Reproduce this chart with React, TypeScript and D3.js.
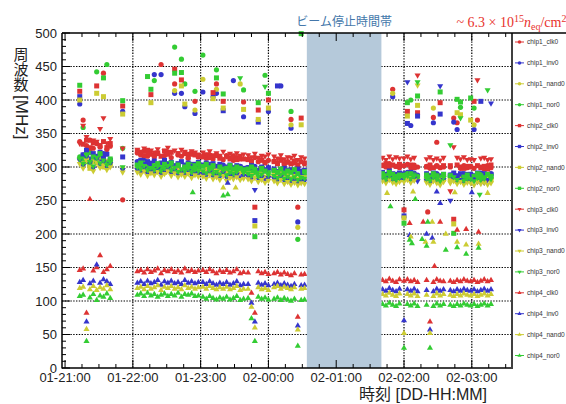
import React from "react";
import * as d3 from "d3";

const _ = null;

// minutes since 01-21:00
const times = [
  13, 16, 19, 22, 25, 28, 31, 34, 37, 40, 51,
  64, 67, 70, 73, 76, 79, 82, 85, 88, 91, 94, 97, 100, 103, 106, 109, 112, 115, 118,
  122, 125, 128, 131, 134, 137, 140, 143, 146, 149, 152, 155, 158,
  162, 165, 168, 171, 174, 177, 180,
  185, 188, 191, 194, 197, 200, 203, 206, 209, 212,
  281, 284, 287, 290, 293, 296,
  300, 303, 306, 309, 312,
  320, 323, 326, 329, 332, 335,
  341, 344, 347, 350, 353, 356,
  359, 362, 365, 368, 371, 374, 377,
];

const chip1_clk0 = [
  338, 370, 332, 340, 328, 335, 330, 440, 326, 331, 251,
  321, 318, 324, 316, 319, 315, 320, 453, 317, 322, 314, 424, 318, 316, 320, 313, 319, 398, 315,
  316, 313, 318, 312, 424, 315, 311, 317, 313, 310, 314, 312, 397,
  312, 309, 314, 308, 311, 307, 310,
  309, 306, 311, 305, 308, 371, 306, 240, 308, 305,
  303, 300, 305, 416, 301, 299,
  302, 304, 299, 303, 300,
  301, 298, 374, 302, 299, 300,
  300, 373, 366, 298, 302, 299,
  301, 298, 370, 300, 297, 302, 299,
];
const chip1_inv0 = [
  394, 318, 310, 322, 308, 315, 312, 320, 306, 311, 383,
  308, 305, 310, 303, 306, 438, 304, 438, 307, 302, 305, 410, 303, 410, 390, 301, 304, 380, 302,
  412, 301, 304, 405, 410, 300, 303, 299, 302, 429, 298, 301, 375,
  299, 296, 301, 295, 298, 294, 383,
  296, 293, 421, 292, 295, 358, 293, 218, 294, 292,
  291, 288, 293, 405, 289, 287,
  290, 292, 362, 291, 288,
  289, 286, 366, 290, 287, 288,
  288, 367, 356, 286, 290, 287,
  289, 356, 287, 291, 285, 288, 290,
];
const chip1_nand0 = [
  312, 305, 318, 302, 310, 306, 315, 300, 308, 304, 298,
  299, 296, 301, 294, 297, 300, 293, 298, 295, 299, 292, 414, 296, 294, 298, 291, 295, 385, 293,
  431, 292, 296, 290, 416, 294, 291, 289, 293, 290, 288, 424, 291,
  289, 286, 291, 285, 288, 284, 287,
  287, 284, 289, 283, 286, 363, 284, 210, 285, 283,
  284, 281, 286, 410, 282, 280,
  283, 285, 281, 284, 282,
  282, 279, 388, 283, 280, 281,
  281, 284, 280, 282, 279, 283,
  282, 363, 280, 284, 278, 281, 283,
];
const chip1_nor0 = [
  315, 359, 308, 322, 312, 442, 318, 310, 453, 306, 328,
  304, 301, 306, 299, 302, 429, 300, 303, 298, 305, 300, 479, 302, 461, 424, 299, 303, 413, 300,
  467, 298, 302, 296, 445, 300, 297, 295, 299, 296, 294, 297, 415,
  295, 292, 297, 291, 294, 437, 293,
  293, 290, 295, 289, 292, 383, 290, 192, 291, 289,
  289, 286, 291, 288, 287, 285,
  288, 290, 400, 289, 286,
  287, 284, 289, 288, 285, 286,
  286, 289, 285, 389, 284, 288,
  287, 388, 285, 289, 283, 286, 288,
];
const chip2_clk0 = [
  413, 334, 340, 328, 336, 421, 332, 338, 329, 335, 391,
  323, 320, 317, 325, 408, 318, 321, 316, 324, 319, 322, 446, 320, 430, 321, 315, 320, 318, 316,
  315, 318, 314, 411, 317, 313, 398, 316, 312, 315, 311, 314, 312,
  311, 308, 240, 385, 310, 306, 400,
  308, 305, 310, 304, 307, 305, 309, 303, 373, 306,
  302, 305, 300, 303, 301, 304,
  236, 383, 303, 299, 381,
  300, 303, 299, 301, 396, 302,
  302, 222, 303, 300, 298, 301,
  300, 398, 302, 299, 301, 297, 303,
];
const chip2_inv0 = [
  405, 318, 325, 312, 320, 316, 322, 314, 319, 310, 315,
  307, 310, 304, 308, 305, 309, 303, 306, 310, 304, 307, 302, 305, 308, 303, 306, 301, 304, 307,
  303, 306, 302, 305, 301, 304, 384, 300, 303, 299, 302, 300, 298,
  299, 302, 220, 367, 300, 296, 299,
  297, 421, 295, 298, 294, 296, 293, 297, 292, 295,
  292, 289, 294, 290, 288, 291,
  227, 365, 292, 288, 376,
  290, 287, 291, 288, 379, 289,
  288, 291, 287, 290, 286, 289,
  289, 287, 291, 398, 290, 286, 289,
];
const chip2_nand0 = [
  400, 305, 312, 298, 308, 410, 303, 405, 300, 307, 379,
  298, 295, 300, 293, 396, 297, 294, 299, 292, 296, 293, 298, 295, 421, 394, 292, 296, 294, 291,
  293, 296, 291, 402, 294, 290, 388, 292, 289, 293, 290, 292, 386,
  290, 287, 212, 371, 289, 285, 388,
  288, 285, 290, 284, 287, 283, 286, 282, 363, 284,
  285, 282, 287, 283, 281, 284,
  224, 376, 285, 282, 392,
  283, 280, 284, 282, 279, 283,
  282, 215, 381, 378, 280, 283,
  370, 281, 285, 282, 279, 284, 281,
];
const chip2_nor0 = [
  422, 312, 318, 305, 315, 309, 320, 433, 306, 312, 399,
  303, 306, 300, 435, 416, 302, 305, 299, 304, 301, 306, 440, 303, 441, 300, 304, 298, 302, 305,
  301, 304, 299, 302, 433, 300, 409, 298, 302, 297, 300, 298, 296,
  297, 300, 196, 396, 298, 294, 410,
  295, 292, 297, 291, 294, 292, 296, 290, 499, 293,
  290, 287, 292, 289, 286, 288,
  216, 396, 290, 287, 406,
  288, 285, 290, 287, 412, 289,
  287, 201, 401, 397, 285, 288,
  403, 286, 290, 287, 284, 289, 286,
];
const chip3_clk0 = [
  335, 362, 345, 330, 340, 338, 357, 373, 336, 342, 328,
  326, 323, 328, 321, 325, 322, 327, 293, 324, 329, 322, 325, 321, 326, 323, 320, 324, 322, 319,
  322, 319, 324, 318, 321, 317, 323, 316, 320, 318, 321, 317, 319,
  318, 315, 320, 314, 317, 316, 319,
  316, 313, 318, 312, 315, 314, 317, 311, 315, 313,
  314, 311, 316, 312, 315, 313,
  313, 316, 312, 314, 437,
  312, 315, 311, 313, 310, 314,
  264, 330, 314, 312, 315, 311,
  312, 311, 430, 313, 314, 311, 312,
];
const chip3_inv0 = [
  310, 302, 315, 306, 298, 312, 304, 308, 300, 305, 296,
  296, 293, 298, 291, 295, 292, 297, 290, 294, 298, 291, 295, 289, 293, 290, 294, 288, 292, 290,
  290, 287, 292, 286, 289, 285, 291, 284, 288, 286, 289, 285, 287,
  286, 283, 266, 282, 285, 281, 284,
  283, 280, 285, 279, 282, 278, 281, 277, 280, 279,
  282, 279, 284, 280, 278, 281,
  281, 427, 280, 283, 279,
  280, 277, 282, 279, 421, 281,
  250, 282, 278, 281, 277, 280,
  279, 282, 278, 280, 277, 281, 395,
];
const chip3_nand0 = [
  305, 298, 310, 301, 294, 307, 299, 303, 296, 300, 292,
  292, 289, 294, 287, 291, 288, 293, 286, 290, 294, 287, 291, 285, 289, 286, 290, 284, 288, 286,
  286, 283, 288, 282, 285, 281, 287, 280, 284, 282, 285, 281, 283,
  282, 279, 284, 278, 281, 277, 280,
  279, 276, 281, 275, 278, 274, 277, 273, 276, 275,
  279, 276, 281, 277, 275, 278,
  278, 281, 277, 280, 422,
  277, 274, 279, 276, 273, 278,
  276, 279, 275, 278, 274, 277,
  276, 273, 278, 275, 277, 274, 276,
];
const chip3_nor0 = [
  312, 305, 318, 308, 301, 314, 306, 310, 303, 307, 300,
  300, 297, 302, 295, 299, 296, 301, 294, 298, 302, 295, 299, 293, 297, 294, 298, 292, 296, 294,
  294, 291, 296, 290, 293, 289, 295, 288, 292, 290, 293, 433, 291,
  290, 287, 292, 286, 289, 420, 288,
  287, 284, 289, 283, 286, 282, 285, 281, 284, 283,
  285, 282, 287, 283, 281, 284,
  284, 287, 283, 286, 427,
  283, 280, 285, 282, 279, 284,
  333, 285, 281, 373, 280, 283,
  282, 279, 284, 281, 283, 415, 282,
];
const chip4_clk0 = [
  146, 148, 82, 252, 145, 150, 168, 143, 147, 152, _,
  144, 146, 142, 147, 143, 145, 148, 141, 146, 144, 147, 143, 145, 142, 148, 144, 146, 143, 145,
  146, 143, 147, 144, 141, 145, 143, 146, 142, 144, 147, 141, 143,
  142, 112, 82, 144, 141, 143, 140,
  141, 143, 139, 142, 140, 138, 141, 76, 139, 140,
  131, 129, 133, 130, 128, 132,
  130, 132, 129, 131, 128,
  131, 69, 128, 132, 130, 129,
  130, 128, 131, 129, 132, 130,
  129, 131, 128, 130, 132, 129, 131,
];
const chip4_inv0 = [
  128, 131, 69, 126, 130, 154, 127, 132, 129, 125, _,
  127, 129, 125, 130, 126, 128, 131, 124, 129, 127, 130, 126, 128, 125, 131, 127, 129, 126, 128,
  128, 125, 129, 126, 124, 127, 125, 128, 124, 126, 129, 123, 125,
  125, 97, 69, 127, 124, 126, 123,
  125, 127, 123, 126, 124, 122, 125, 63, 123, 124,
  117, 115, 119, 116, 114, 118,
  71, 117, 115, 118, 114,
  116, 57, 114, 118, 115, 117,
  116, 114, 117, 115, 118, 116,
  115, 117, 114, 116, 118, 115, 117,
];
const chip4_nand0 = [
  119, 121, 58, 117, 122, 116, 120, 118, 123, 117, _,
  119, 121, 117, 122, 118, 120, 123, 116, 121, 119, 122, 118, 120, 117, 123, 119, 121, 118, 120,
  121, 118, 122, 119, 117, 120, 118, 121, 117, 119, 122, 116, 118,
  118, 91, 60, 120, 117, 119, 116,
  120, 122, 118, 121, 119, 117, 120, 57, 118, 119,
  110, 108, 112, 109, 107, 111,
  52, 110, 108, 111, 107,
  109, 52, 107, 111, 108, 110,
  109, 107, 110, 108, 111, 109,
  108, 110, 107, 109, 111, 108, 110,
];
const chip4_nor0 = [
  107, 109, 40, 105, 110, 101, 108, 106, 111, 104, _,
  109, 111, 107, 112, 108, 110, 106, 109, 111, 107, 110, 108, 112, 106, 110, 109, 111, 107, 108,
  106, 103, 107, 104, 102, 105, 103, 106, 102, 104, 107, 101, 103,
  104, 74, 40, 106, 103, 105, 102,
  103, 105, 101, 104, 102, 100, 103, 33, 101, 102,
  95, 93, 97, 94, 92, 96,
  30, 95, 93, 96, 92,
  94, 30, 92, 96, 93, 95,
  94, 92, 95, 93, 96, 94,
  93, 95, 92, 94, 96, 93, 95,
];

// isolated readings: [series, minute, MHz]
const extraPoints: [string, number, number][] = [
  ["chip4_inv0", 144, 276], ["chip4_nand0", 140, 269], ["chip4_nand0", 151, 269],
  ["chip4_nor0", 140, 257], ["chip4_nor0", 144, 259], ["chip4_nor0", 113, 262],
  ["chip4_nand0", 285, 261], ["chip4_nor0", 288, 241], ["chip4_nand0", 308, 263],
  ["chip4_nor0", 310, 252], ["chip4_inv0", 329, 263], ["chip4_inv0", 332, 246],
  ["chip4_nand0", 345, 262], ["chip4_inv0", 360, 262], ["chip4_nand0", 374, 261],
  ["chip3_nor0", 367, 259], ["chip1_clk0", 321, 233], ["chip4_clk0", 332, 218],
  ["chip4_clk0", 317, 218], ["chip4_nor0", 321, 218], ["chip4_nand0", 325, 218],
  ["chip4_clk0", 305, 216], ["chip4_nor0", 305, 191], ["chip4_inv0", 305, 198],
  ["chip4_nand0", 306, 196], ["chip4_nor0", 307, 186], ["chip4_nor0", 316, 192],
  ["chip4_inv0", 320, 200], ["chip4_nand0", 319, 188], ["chip4_nor0", 320, 182],
  ["chip4_inv0", 325, 194], ["chip4_nand0", 326, 188], ["chip4_nand0", 337, 200],
  ["chip4_nor0", 337, 176], ["chip4_clk0", 347, 206], ["chip4_nand0", 347, 188],
  ["chip4_nor0", 347, 180], ["chip4_clk0", 355, 207], ["chip4_nand0", 355, 184],
  ["chip4_nor0", 355, 170], ["chip4_clk0", 366, 203], ["chip4_nand0", 366, 185],
  ["chip4_nor0", 366, 179], ["chip4_clk0", 327, 152], ["chip1_clk0", 329, 337],
];

const seriesNames = [
  "chip1_clk0", "chip1_inv0", "chip1_nand0", "chip1_nor0",
  "chip2_clk0", "chip2_inv0", "chip2_nand0", "chip2_nor0",
  "chip3_clk0", "chip3_inv0", "chip3_nand0", "chip3_nor0",
  "chip4_clk0", "chip4_inv0", "chip4_nand0", "chip4_nor0",
];
const seriesValues = [
  chip1_clk0, chip1_inv0, chip1_nand0, chip1_nor0,
  chip2_clk0, chip2_inv0, chip2_nand0, chip2_nor0,
  chip3_clk0, chip3_inv0, chip3_nand0, chip3_nor0,
  chip4_clk0, chip4_inv0, chip4_nand0, chip4_nor0,
];

const xTickMinutes = [0, 60, 120, 180, 240, 300, 360];
const xTickLabels = ["01-21:00", "01-22:00", "01-23:00", "02-00:00", "02-01:00", "02-02:00", "02-03:00"];
const yTicks = [0, 50, 100, 150, 200, 250, 300, 350, 400, 450, 500];
const beamStop = [214, 280];

const colorOf: Record<string, string> = {
  clk0: "#dd3333",
  inv0: "#3535cc",
  nand0: "#cccc33",
  nor0: "#33cc33",
};
const shapeOf: Record<string, string> = {
  chip1: "circle",
  chip2: "square",
  chip3: "down",
  chip4: "up",
};

function symbolPath(shape: string, scale: number) {
  if (shape === "circle") return d3.symbol().type(d3.symbolCircle).size(21 * scale)()!;
  if (shape === "square") return d3.symbol().type(d3.symbolSquare).size(25 * scale)()!;
  return d3.symbol().type(d3.symbolTriangle).size(16 * scale)()!;
}

export default function App() {
  const X0 = 62, X1 = 511, Y0 = 368, Y1 = 33;
  const x = d3.scaleLinear().domain([-2.7, 394.7]).range([X0, X1]);
  const y = d3.scaleLinear().domain([0, 500]).range([Y0, Y1]);

  const points: { name: string; t: number; v: number }[] = [];
  seriesNames.forEach((name, i) => {
    seriesValues[i].forEach((v, j) => {
      if (v !== null && v !== undefined) points.push({ name, t: times[j], v: v as number });
    });
    extraPoints.filter((p) => p[0] === name).forEach((p) => points.push({ name, t: p[1], v: p[2] }));
  });

  const yMinor = d3.range(0, 501, 10);
  const xMinor = d3.range(0, 395, 15);
  const font = "'Liberation Sans', Arial, 'Noto Sans CJK JP', sans-serif";

  const marker = (name: string, cx: number, cy: number, scale: number, key: string) => {
    const [chip, ring] = name.split("_");
    const shape = shapeOf[chip];
    const tr = shape === "down" ? `translate(${cx},${cy}) rotate(180)` : `translate(${cx},${cy})`;
    return <path key={key} d={symbolPath(shape, scale)} transform={tr} fill={colorOf[ring]} />;
  };

  return (
    <svg width={566} height={404} style={{ position: "absolute", left: 0, top: 0, background: "#fff" }}
      fontFamily={font}>
      <rect x={0} y={0} width={566} height={404} fill="#fff" />
      {/* grid */}
      {yTicks.filter((v) => v > 0 && v < 500).map((v) => (
        <line key={"gy" + v} x1={X0} x2={X1} y1={y(v)} y2={y(v)} stroke="#000" strokeWidth={1.2} strokeDasharray="1.4,1.4" />
      ))}
      {xTickMinutes.filter((m) => m > 0).map((m) => (
        <line key={"gx" + m} x1={x(m)} x2={x(m)} y1={Y1} y2={Y0} stroke="#000" strokeWidth={1.2} strokeDasharray="1.4,1.4" />
      ))}
      {/* points */}
      {points.map((p, i) => marker(p.name, x(p.t), y(p.v), 1, "p" + i))}
      {/* beam stop band */}
      <rect x={x(beamStop[0])} y={Y1} width={x(beamStop[1]) - x(beamStop[0])} height={Y0 - Y1} fill="#b5c9da" />
      {/* axes */}
      <line x1={X0} x2={X0} y1={Y1} y2={Y0 + 0.5} stroke="#000" strokeWidth={1.5} />
      <line x1={X0} x2={X1} y1={Y0} y2={Y0} stroke="#000" strokeWidth={1.5} />
      <line x1={X0} x2={566} y1={Y1} y2={Y1} stroke="#000" strokeWidth={1.5} />
      <line x1={X1 + 1} x2={X1 + 1} y1={Y1} y2={Y0 + 1} stroke="#000" strokeWidth={1.5} />
      {yMinor.map((v) => (
        <line key={"ty" + v} x1={X0} x2={X0 + (v % 50 === 0 ? 8 : 4)} y1={y(v)} y2={y(v)} stroke="#000" strokeWidth={1} />
      ))}
      {xMinor.map((m) => (
        <g key={"tx" + m}>
          <line x1={x(m)} x2={x(m)} y1={Y0} y2={Y0 - (m % 60 === 0 ? 8 : 4)} stroke="#000" strokeWidth={1} />
          <line x1={x(m)} x2={x(m)} y1={Y1} y2={Y1 + (m % 60 === 0 ? 8 : 4)} stroke="#000" strokeWidth={1} />
        </g>
      ))}
      {yTicks.map((v) => (
        <text key={"ly" + v} x={57} y={y(v)} dy="0.36em" textAnchor="end" fontSize={13} fill="#222">{v}</text>
      ))}
      {xTickMinutes.map((m, i) => (
        <text key={"lx" + m} x={x(m)} y={382} textAnchor="middle" fontSize={13} fill="#222">{xTickLabels[i]}</text>
      ))}
      {/* axis titles */}
      <text x={487} y={400} textAnchor="end" fontSize={16} fill="#222">時刻 [DD-HH:MM]</text>
      <text x={21} y={47} fontSize={15} fill="#222" style={{ writingMode: "vertical-rl" }}
        fontFamily="'Noto Sans CJK JP', sans-serif">周波数 <tspan fontSize={17} fontFamily="'Liberation Sans', Arial, sans-serif">[MHz]</tspan></text>
      {/* annotations */}
      <text x={x((beamStop[0] + beamStop[1]) / 2)} y={26} textAnchor="middle" fontSize={12} fill="#4477aa"
        fontFamily="'Noto Sans CJK JP', sans-serif">ビーム停止時間帯</text>
      <text x={456.5} y={27} fontSize={14} fill="#e8312c" fontFamily="'Liberation Serif', 'Times New Roman', serif">
        ~ 6.3 × 10<tspan dy={-5} fontSize={10}>15</tspan><tspan dy={5} fontStyle="italic">n</tspan>
        <tspan dy={3} fontSize={10}>eq</tspan><tspan dy={-3}>/cm</tspan><tspan dy={-5} fontSize={10}>2</tspan>
      </text>
      {/* legend */}
      {seriesNames.map((name, i) => {
        const ly = 42 + i * 20.9;
        const ring = name.split("_")[1];
        return (
          <g key={"lg" + name}>
            <line x1={515} x2={524} y1={ly} y2={ly} stroke={colorOf[ring]} strokeWidth={1} />
            {marker(name, 519.5, ly, 0.45, "lm" + i)}
            <text x={527} y={ly} dy="0.35em" fontSize={6.6} fill="#333">{name}</text>
          </g>
        );
      })}
    </svg>
  );
}
